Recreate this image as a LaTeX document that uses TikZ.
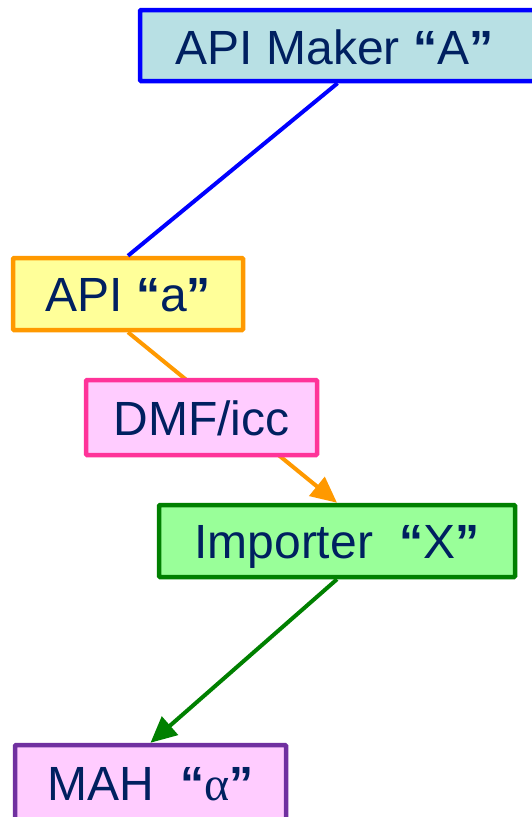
\documentclass[tikz,border=0pt]{standalone}
\usepackage{fontspec}
\setmainfont{Liberation Sans}
\newfontfamily\grk{Liberation Serif}
\usetikzlibrary{arrows.meta}
\definecolor{txtc}{HTML}{002060}
\definecolor{cyanf}{HTML}{B8E0E4}
\definecolor{bluel}{HTML}{0000FF}
\definecolor{yelf}{HTML}{FFFF99}
\definecolor{orgl}{HTML}{FF9900}
\definecolor{pinkf}{HTML}{FFCCFF}
\definecolor{pinkl}{HTML}{FF3399}
\definecolor{grnf}{HTML}{99FF99}
\definecolor{grnl}{HTML}{008000}
\definecolor{purl}{HTML}{7030A0}
\newcommand{\myLq}{{\bfseries “}}
\newcommand{\myRq}{{\bfseries ”}}
\tikzset{
  boxnode/.style={draw, line width=4.5pt, rounded corners=1pt, inner sep=0pt,
    text=txtc, font=\fontsize{48}{52}\selectfont, text height=35pt, text depth=0pt},
  conn/.style={line width=4pt},
  tip/.style={-{Triangle[length=26pt,width=24pt]}}
}
\begin{document}
\begin{tikzpicture}[x=1pt,y=-1pt]
\useasboundingbox (0,0) rectangle (531,817);
\node[boxnode, fill=cyanf, draw=bluel, minimum width=395pt, minimum height=71pt] (makerA) at (337.5,45.5) {};
\node[text=txtc, font=\fontsize{48}{52}\selectfont, inner sep=0pt, text height=35pt, text depth=0pt] (makerAt) at (334.5,47) {API Maker \myLq A\myRq};
\node[boxnode, fill=yelf, draw=orgl, minimum width=230pt, minimum height=72pt] (apia) at (128,294) {API \myLq a\myRq};
\node[boxnode, fill=grnf, draw=grnl, minimum width=356pt, minimum height=72pt] (imp) at (337,541) {Importer\ \ \myLq X\myRq};
\node[boxnode, fill=pinkf, draw=purl, minimum width=271pt, minimum height=76pt] (mah) at (150.5,783) {MAH\ \ \myLq{\grk α}\myRq};
\draw[conn, bluel] (makerA.south) -- (apia.north);
\draw[conn, orgl, tip] (apia.south) -- (imp.north);
\node[boxnode, fill=pinkf, draw=pinkl, minimum width=231pt, minimum height=75pt] (dmf) at (201.5,417.5) {DMF/icc};
\draw[conn, grnl, tip] (imp.south) -- (mah.north);
\end{tikzpicture}
\end{document}
